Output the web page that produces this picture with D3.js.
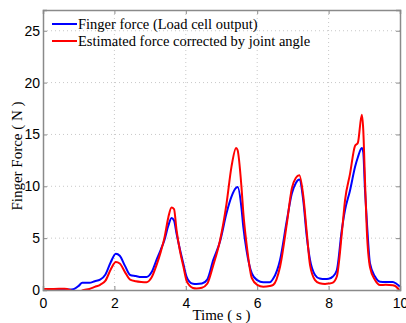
<!DOCTYPE html>
<html>
<head>
<meta charset="utf-8">
<script src="https://cdn.jsdelivr.net/npm/d3@7"></script>
<style>
	body { margin: 0; background: #fff; }
	svg { display: block; font-family: 'Liberation Serif', 'Times New Roman', serif; }
	.tick text { font-size: 14px; fill: #000; }
</style>
</head>
<body>
<div id="chart"></div>
<script>
// time (s)
const time = [0, 0.3, 0.6, 0.75, 0.85, 1.0, 1.1, 1.3, 1.45, 1.6, 1.75, 1.9, 2.04, 2.15, 2.3, 2.44, 2.6, 2.75, 2.9,
	3.04, 3.18, 3.3, 3.4, 3.51, 3.6, 3.67, 3.74, 3.84, 3.93, 4.02, 4.1, 4.2, 4.3, 4.45, 4.6, 4.77, 4.96,
	5.14, 5.28, 5.41, 5.45, 5.56, 5.61, 5.7, 5.85, 6.0, 6.17, 6.35, 6.45, 6.64, 6.83, 6.97, 7.08, 7.18,
	7.29, 7.39, 7.48, 7.62, 7.75, 7.9, 8.0, 8.12, 8.23, 8.37, 8.46, 8.6, 8.74, 8.82, 8.93, 8.97, 9.02,
	9.07, 9.16, 9.3, 9.44, 9.6, 9.8, 9.9, 10.0]
// finger force, load cell output (N)
const fingerForce = [0.05, 0.05, 0.05, 0.05, 0.08, 0.4, 0.7, 0.7, 0.85, 1.0, 1.5, 2.7, 3.5, 3.3, 2.3, 1.45, 1.35, 1.25, 1.25,
	1.7, 2.9, 3.9, 4.8, 6.2, 6.95, 6.7, 5.45, 3.85, 2.55, 1.3, 0.8, 0.6, 0.58, 0.62, 1.0, 2.9, 4.7,
	7.4, 9.0, 9.85, 9.93, 7.9, 6.1, 3.85, 1.6, 0.95, 0.74, 0.74, 1.1, 2.9, 6.7, 9.3, 10.3, 10.65,
	8.65, 5.1, 2.9, 1.45, 1.1, 1.05, 1.08, 1.3, 1.9, 5.8, 7.7, 9.6, 11.86, 12.8, 13.7, 13.3, 9.6,
	6.7, 2.55, 1.3, 0.8, 0.78, 0.78, 0.6, 0.32]
// estimated force corrected by joint angle (N)
const estimatedForce = [0.1, 0.1, 0.12, 0.0, -0.2, -0.3, -0.05, 0.1, 0.3, 0.5, 0.9, 2.0, 2.7, 2.55, 1.7, 1.0, 0.85, 0.78, 0.75,
	1.2, 2.4, 3.7, 5.0, 7.0, 7.95, 7.8, 5.8, 3.7, 2.3, 0.9, 0.45, 0.2, 0.15, 0.22, 0.6, 2.4, 4.8,
	8.3, 11.9, 13.7, 13.5, 9.9, 7.5, 4.5, 1.15, 0.5, 0.32, 0.38, 0.5, 2.25, 6.4, 9.8, 10.8, 11.06,
	9.1, 5.5, 2.4, 0.96, 0.65, 0.58, 0.62, 0.72, 1.3, 5.45, 8.65, 11.2, 13.9, 14.2, 16.9, 15.5, 10.5,
	5.8, 2.2, 0.96, 0.48, 0.5, 0.45, 0.3, -0.1]

const xTicks = [0, 2, 4, 6, 8, 10]
const yTicks = [0, 5, 10, 15, 20, 25]
const seriesNames = ['Finger force (Load cell output)', 'Estimated force corrected by joint angle']
const seriesColors = ['#0000ff', '#ff0000']

const width = 406, height = 323
const margin = { top: 10, right: 6, bottom: 33, left: 43 }
const w = width - margin.left - margin.right
const h = height - margin.top - margin.bottom

const svg = d3.select('#chart').append('svg')
	.attr('width', width)
	.attr('height', height)

const g = svg.append('g').attr('transform', `translate(${margin.left},${margin.top})`)

const x = d3.scaleLinear().domain([0, 10]).range([0, w])
const y = d3.scaleLinear().domain([0, 27]).range([h, 0])

// grid
g.append('g').selectAll('line').data(xTicks.slice(1, -1)).enter().append('line')
	.attr('x1', d => x(d)).attr('x2', d => x(d)).attr('y1', 0).attr('y2', h)
	.attr('stroke', '#c8c8c8').attr('stroke-dasharray', '1,3')
g.append('g').selectAll('line').data(yTicks.slice(1)).enter().append('line')
	.attr('x1', 0).attr('x2', w).attr('y1', d => y(d)).attr('y2', d => y(d))
	.attr('stroke', '#c8c8c8').attr('stroke-dasharray', '1,3')

g.append('defs').append('clipPath').attr('id', 'clip')
	.append('rect').attr('width', w).attr('height', h)

const data = [fingerForce, estimatedForce]
const line = d3.line()
	.x((d, i) => x(time[i]))
	.y(d => y(d))
	.curve(d3.curveMonotoneX)

g.append('g').attr('clip-path', 'url(#clip)')
	.selectAll('path').data(data).enter().append('path')
	.attr('d', d => line(d))
	.attr('fill', 'none')
	.attr('stroke', (d, i) => seriesColors[i])
	.attr('stroke-width', 2)
	.attr('stroke-linejoin', 'round')

// axes (ticks inward, box all round)
const axisColor = '#8a8a8a'
g.append('g').attr('transform', `translate(0,${h})`)
	.call(d3.axisBottom(x).tickValues(xTicks).tickSize(-4).tickPadding(8))
g.append('g')
	.call(d3.axisLeft(y).tickValues(yTicks).tickSize(-4).tickPadding(3))
g.append('g').attr('transform', `translate(${w},0)`)
	.call(d3.axisRight(y).tickValues(yTicks).tickSize(-4).tickFormat(''))
g.append('g')
	.call(d3.axisTop(x).tickValues(xTicks).tickSize(-4).tickFormat(''))
g.selectAll('.domain').attr('stroke', axisColor).attr('stroke-width', 1.5)
g.selectAll('.tick line').attr('stroke', axisColor)

// legend
const legend = g.append('g').selectAll('g').data(seriesNames).enter().append('g')
	.attr('transform', (d, i) => `translate(9,${14 + i * 17})`)
legend.append('line')
	.attr('x1', 0).attr('x2', 25)
	.attr('stroke', (d, i) => seriesColors[i]).attr('stroke-width', 2)
legend.append('text')
	.attr('x', 26).attr('y', 5)
	.style('font-size', '14.5px')
	.text(d => d)

// axis labels
svg.append('text')
	.attr('x', margin.left + w / 2).attr('y', 320)
	.attr('text-anchor', 'middle')
	.style('font-size', '15px')
	.text('Time ( s )')
svg.append('text')
	.attr('transform', 'translate(22,156) rotate(-90)')
	.attr('text-anchor', 'middle')
	.style('font-size', '15px')
	.text('Finger Force ( N )')
</script>
</body>
</html>
